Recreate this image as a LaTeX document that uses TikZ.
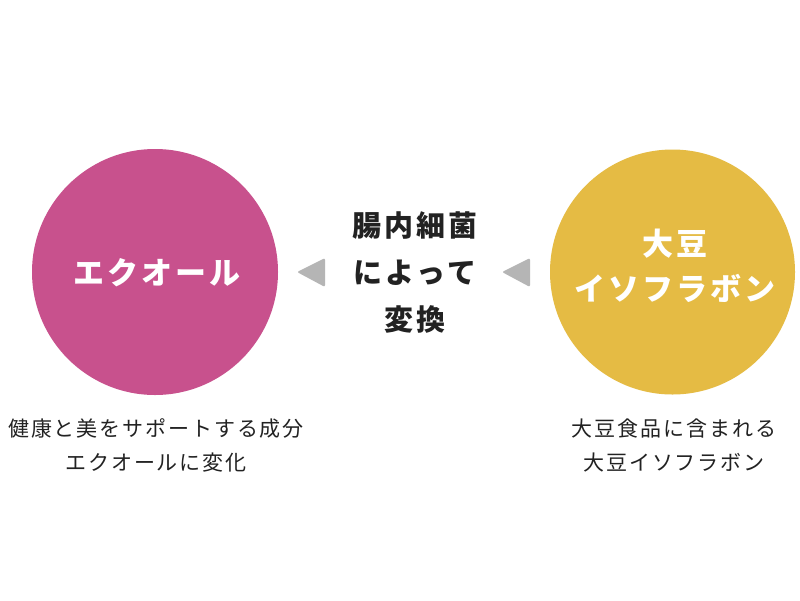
\documentclass[tikz,border=0pt]{standalone}
\usepackage{fontspec}
\setmainfont{Noto Sans CJK JP}
\newfontfamily\jptitle[LetterSpace=10]{Noto Sans CJK JP}
\newfontfamily\jplabel[LetterSpace=9]{Noto Sans CJK JP}
\definecolor{ecol}{HTML}{C8518D}
\definecolor{soy}{HTML}{E5BB44}
\definecolor{txt}{HTML}{222222}
\definecolor{arrowgray}{HTML}{B5B5B5}
\tikzset{
  circ/.style={circle, minimum size=246pt, inner sep=0pt},
  title/.style={text=white, font=\jptitle\bfseries\fontsize{31pt}{45pt}\selectfont, align=center},
  mid/.style={text=txt, font=\jptitle\bfseries\fontsize{29pt}{47pt}\selectfont, align=center},
  lab/.style={text=txt, font=\jplabel\fontsize{21pt}{34pt}\selectfont, align=center},
  tri/.style={fill=arrowgray, rounded corners=2pt}
}
\begin{document}
\begin{tikzpicture}[x=1pt,y=-1pt]
\useasboundingbox (0,0) rectangle (800,600);
\fill[white] (0,0) rectangle (800,600);
% circles
\node[circ, fill=ecol] (eq) at (155,272) {};
\node[circ, fill=soy, minimum size=245pt] (soy) at (672.5,272) {};
% titles
\node[title] (eqt) at (157,273) {エクオール};
\node[title] (soyt) at (675,266) {大豆\\イソフラボン};
% middle text
\node[mid] (mt) at (415,273) {腸内細菌\\によって\\変換};
% triangles
\coordinate (t1a) at (297,272);
\coordinate (t1b) at (325,258);
\coordinate (t1c) at (325,287);
\coordinate (t2a) at (502,272);
\coordinate (t2b) at (530,258);
\coordinate (t2c) at (530,287);
\fill[tri] (t1a) -- (t1b) -- (t1c) -- cycle;
\fill[tri] (t2a) -- (t2b) -- (t2c) -- cycle;
% labels
\node[lab] (eql) at (156,445) {健康と美をサポートする成分\\エクオールに変化};
\node[lab] (soyl) at (674,445) {大豆食品に含まれる\\大豆イソフラボン};
\end{tikzpicture}
\end{document}
